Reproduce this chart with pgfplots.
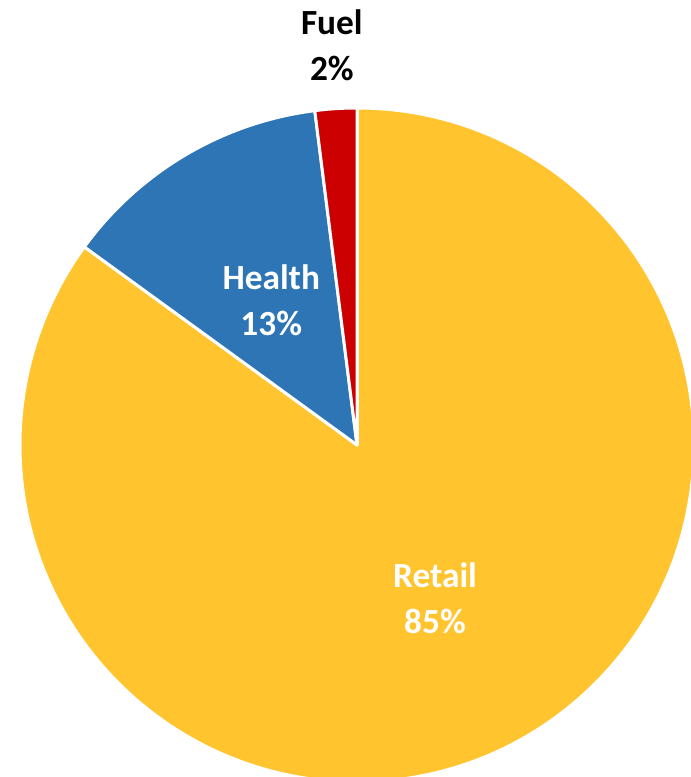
\documentclass[border=0pt]{standalone}
\usepackage{pgfplots}
\pgfplotsset{compat=1.18}
\usepackage{pgfplotstable}
\usepackage{fontspec}
\setmainfont{Carlito}

\definecolor{retail}{RGB}{255,196,46}
\definecolor{health}{RGB}{46,117,182}
\definecolor{fuel}{RGB}{204,0,0}

% slice values in percent, clockwise from 12 o'clock
\pgfplotstableread{
name   value col    txt   rad
Retail 85    retail white 0.51
Health 13    health white 0.50
Fuel   2     fuel   black 1.19
}\piedata

\def\R{252.75pt}% pie radius (337 px)

\begin{document}
\begin{tikzpicture}
\useasboundingbox (0,0) rectangle (518.25pt,582.75pt);

% cumulative angles
\gdef\startang{90}
\foreach \i in {0,1,2}{
  \pgfplotstablegetelem{\i}{value}\of\piedata \let\v\pgfplotsretval
  \expandafter\xdef\csname val\i\endcsname{\v}
  \pgfplotstablegetelem{\i}{name}\of\piedata
  \expandafter\xdef\csname nm\i\endcsname{\pgfplotsretval}
  \pgfplotstablegetelem{\i}{col}\of\piedata
  \xglobal\colorlet{slice\i}{\pgfplotsretval}
  \pgfplotstablegetelem{\i}{txt}\of\piedata
  \xglobal\colorlet{lab\i}{\pgfplotsretval}
  \pgfplotstablegetelem{\i}{rad}\of\piedata \let\r\pgfplotsretval
  \pgfmathsetmacro\endang{\startang-3.6*\v}
  \pgfmathsetmacro\midang{(\startang+\endang)/2}
  \pgfmathsetmacro\lx{\r*cos(\midang)}
  \pgfmathsetmacro\ly{\r*sin(\midang)}
  \expandafter\xdef\csname sa\i\endcsname{\startang}
  \expandafter\xdef\csname ea\i\endcsname{\endang}
  \expandafter\xdef\csname lx\i\endcsname{\lx}
  \expandafter\xdef\csname ly\i\endcsname{\ly}
  \xdef\startang{\endang}
}

\begin{scope}[overlay]
\begin{axis}[
  at={(267.75pt,249pt)}, anchor=origin,
  hide axis, clip=false,
  x=\R, y=\R,
  xmin=-1, xmax=1, ymin=-1, ymax=1,
]
\pgfplotsinvokeforeach{0,1,2}{
  \fill[slice#1, draw=white, line width=2.25pt, line join=round]
    (axis cs:0,0) -- ++(\csname sa#1\endcsname:\R)
    arc[start angle=\csname sa#1\endcsname, end angle=\csname ea#1\endcsname, radius=\R] -- cycle;
}
\pgfplotsinvokeforeach{0,1,2}{
  \node[text=lab#1, align=center, font=\bfseries\fontsize{26.5}{34.5}\selectfont]
    at (axis cs:\csname lx#1\endcsname,\csname ly#1\endcsname)
    {\csname nm#1\endcsname\\\csname val#1\endcsname\%};
}
\end{axis}
\end{scope}
\end{tikzpicture}
\end{document}
